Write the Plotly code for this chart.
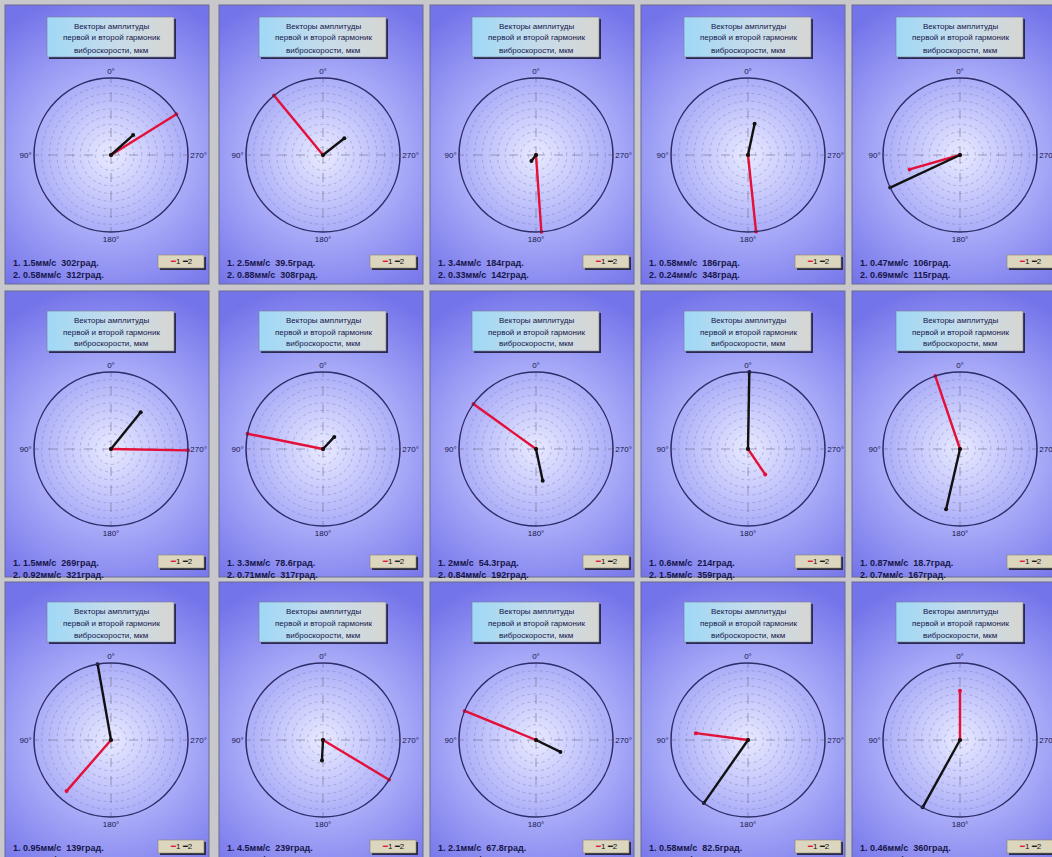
import base64
import plotly.graph_objects as go

W, H = 1052, 857

# First and second harmonic: amplitude (mm/s) and phase (degrees), one entry per measuring point
amp1 = [1.5, 2.5, 3.4, 0.58, 0.47, 1.5, 3.3, 2, 0.6, 0.87, 0.95, 4.5, 2.1, 0.58, 0.46]
ang1 = [302, 39.5, 184, 186, 106, 269, 78.6, 54.3, 214, 18.7, 139, 239, 67.8, 82.5, 360]
amp2 = [0.58, 0.88, 0.33, 0.24, 0.69, 0.92, 0.71, 0.84, 1.5, 0.7, 1.08, 1.2, 0.74, 0.85, 0.72]
ang2 = [312, 308, 142, 348, 115, 321, 317, 192, 359, 167, 10, 177, 244, 145, 151]

angle_ticks = [0, 90, 180, 270]
angle_labels = ["0°", "90°", "180°", "270°"]
title_lines = ["Векторы амплитуды", "первой и второй гармоник", "виброскорости, мкм"]

# Panel geometry (pixels)
COL_LEFT = [5, 219, 430, 641, 852]
COL_CX = [111, 323, 536, 748, 960]
ROW_TOP = [5, 291, 582]
ROW_H = [279, 286, 280]
ROW_CY = [155, 449, 740]
ROW_TEXT = [263, 563, 848]
PANEL_W = 204
R = 77

RED = "#e3103a"
BLACK = "#111111"
TXT = "#16164a"


def px(x):
    return x / W


def py(y):
    return 1 - y / H


# Background: panels with radial gradients, title boxes and legend buttons
svg = [f'<svg xmlns="http://www.w3.org/2000/svg" width="{W}" height="{H}" viewBox="0 0 {W} {H}">',
       '<defs>',
       '<linearGradient id="tb" x1="0" y1="0" x2="1" y2="0">'
       '<stop offset="0" stop-color="#9fd8f6"/><stop offset="0.55" stop-color="#c8dcea"/>'
       '<stop offset="1" stop-color="#d6d6d2"/></linearGradient>']
for r_i, cy in enumerate(ROW_CY):
    for c_i, cx in enumerate(COL_CX):
        svg.append(f'<radialGradient id="g{r_i}{c_i}" gradientUnits="userSpaceOnUse" cx="{cx}" cy="{cy}" r="165">'
                   '<stop offset="0" stop-color="#e8eaff"/><stop offset="0.25" stop-color="#c8cafc"/>'
                   '<stop offset="0.5" stop-color="#a6a8f7"/><stop offset="1" stop-color="#7474ea"/>'
                   '</radialGradient>')
svg.append('</defs>')
svg.append(f'<rect x="0" y="0" width="{W}" height="{H}" fill="#c8c8cc"/>')
for r_i, top in enumerate(ROW_TOP):
    for c_i, left in enumerate(COL_LEFT):
        svg.append(f'<rect x="{left}" y="{top}" width="{PANEL_W}" height="{ROW_H[r_i]}" '
                   f'fill="url(#g{r_i}{c_i})" stroke="#6a6a90" stroke-width="1"/>')
        cx, cy = COL_CX[c_i], ROW_CY[r_i]
        # title box with shadow
        bx, by, bw, bh = cx - 64, cy - 138, 127, 40
        svg.append(f'<rect x="{bx + 2}" y="{by + 2}" width="{bw}" height="{bh}" fill="#2a2a50"/>')
        svg.append(f'<rect x="{bx}" y="{by}" width="{bw}" height="{bh}" fill="url(#tb)" stroke="#7a7a9a" stroke-width="0.6"/>')
        # legend button
        lx, ly = cx + 47, ROW_TEXT[r_i] - 8
        svg.append(f'<rect x="{lx + 2}" y="{ly + 2}" width="46" height="13" fill="#2a2a40"/>')
        svg.append(f'<rect x="{lx}" y="{ly}" width="46" height="13" fill="#dcd6bf" stroke="#8a8470" stroke-width="0.6"/>')
svg.append('</svg>')
bg_src = "data:image/svg+xml;base64," + base64.b64encode("".join(svg).encode("utf-8")).decode()

fig = go.Figure()
layout = dict(
    width=W, height=H,
    margin=dict(l=0, r=0, t=0, b=0),
    paper_bgcolor="#c8c8cc",
    showlegend=False,
    images=[dict(source=bg_src, xref="paper", yref="paper", x=0, y=1, sizex=1, sizey=1,
                 xanchor="left", yanchor="top", sizing="stretch", layer="below")],
)
annotations = []


def fmt(v):
    return f"{v:g}"


for i in range(15):
    row, col = divmod(i, 5)
    cx, cy = COL_CX[col], ROW_CY[row]
    key = "polar" if i == 0 else f"polar{i + 1}"
    rmax = max(amp1[i], amp2[i])

    layout[key] = dict(
        domain=dict(x=[px(cx - R), px(cx + R)], y=[py(cy + R), py(cy - R)]),
        bgcolor="rgba(0,0,0,0)",
        radialaxis=dict(range=[0, rmax], dtick=rmax / 10, showticklabels=False, ticks="",
                        showline=False, gridcolor="rgba(110,110,170,0.38)", griddash="dot", gridwidth=1),
        angularaxis=dict(rotation=90, direction="counterclockwise", tickvals=angle_ticks,
                         ticktext=angle_labels, ticks="", showline=True, linecolor="#2c2c68",
                         linewidth=1.5, gridcolor="rgba(110,110,140,0.6)", griddash="dash",
                         tickfont=dict(family="Liberation Sans", size=8, color=TXT)),
    )

    fig.add_trace(go.Scatterpolar(r=[0, amp1[i]], theta=[ang1[i], ang1[i]], subplot=key,
                                  mode="lines+markers", line=dict(color=RED, width=2.4),
                                  marker=dict(size=4, color=RED), hoverinfo="skip"))
    fig.add_trace(go.Scatterpolar(r=[0, amp2[i]], theta=[ang2[i], ang2[i]], subplot=key,
                                  mode="lines+markers", line=dict(color=BLACK, width=2.4),
                                  marker=dict(size=4, color=BLACK), hoverinfo="skip"))

    # title box text
    for k, line in enumerate(title_lines):
        annotations.append(dict(text=line, x=px(cx), y=py(cy - 129 + 12 * k), xref="paper", yref="paper",
                                showarrow=False, xanchor="center", yanchor="middle",
                                font=dict(family="Liberation Sans", size=8, color=TXT)))
    # harmonic readouts
    left = COL_LEFT[col]
    ty = ROW_TEXT[row]
    lines = [f"1. {fmt(amp1[i])}мм/с  {fmt(ang1[i])}град.",
             f"2. {fmt(amp2[i])}мм/с  {fmt(ang2[i])}град."]
    for k, line in enumerate(lines):
        annotations.append(dict(text=f"<b>{line}</b>", x=px(left + 6), y=py(ty + 12 * k), xref="paper", yref="paper",
                                showarrow=False, xanchor="left", yanchor="middle",
                                font=dict(family="Liberation Sans", size=9, color=TXT)))
    # legend button label
    annotations.append(dict(text=f"<span style='color:{RED}'>━</span>1 <span style='color:{BLACK}'>━</span>2",
                            x=px(cx + 70), y=py(ty - 1.5), xref="paper", yref="paper",
                            showarrow=False, xanchor="center", yanchor="middle",
                            font=dict(family="Liberation Sans", size=8, color=BLACK)))

layout["annotations"] = annotations
fig.update_layout(**layout)
fig.write_html("out.html")
